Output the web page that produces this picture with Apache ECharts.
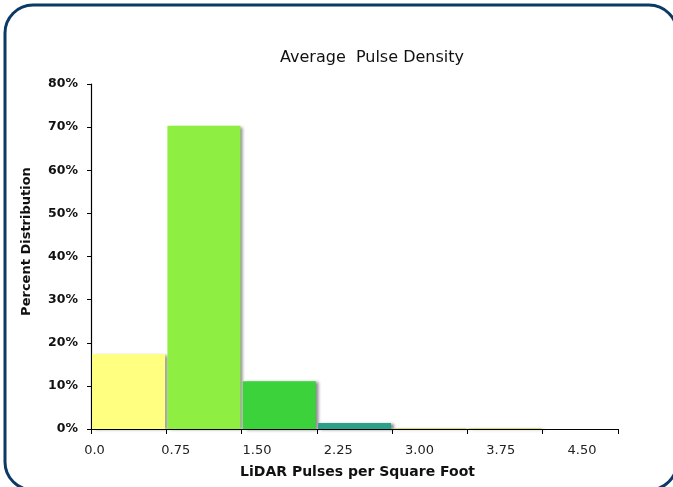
<!DOCTYPE html>
<html>
<head>
<meta charset="utf-8">
<script src="https://cdn.jsdelivr.net/npm/echarts@6/dist/echarts.min.js"></script>
<style>
html,body{margin:0;padding:0;background:#fff;}
#chart{width:673px;height:487px;}
</style>
</head>
<body>
<div id="chart"></div>
<script>
// Data
const binCategories = ['0.00-0.75', '0.75-1.50', '1.50-2.25', '2.25-3.00', '3.00-3.75', '3.75-4.50', '4.50-5.25'];
const percentValues = [17.4, 70.3, 11.1, 1.4, 0.2, 0.2, 0];
const xTickLabels = ['0.0', '0.75', '1.50', '2.25', '3.00', '3.75', '4.50'];
const yTickMax = 80;
const yTickStep = 10;

// Styles
const barColors = ['#FFFF80', '#8EEF42', '#3CD23C', '#2CA08B', '#D6D044', '#D6D044', '#D6D044'];
const FONT = '"DejaVu Sans", Inter, sans-serif';

const chart = echarts.init(document.getElementById('chart'));
chart.setOption({
  animation: false,
  backgroundColor: '#fff',
  title: {
    text: 'Average  Pulse Density',
    left: 367,
    textAlign: 'center',
    top: 45,
    textStyle: { fontFamily: FONT, fontSize: 16, fontWeight: 'normal', color: '#111' }
  },
  graphic: [{
    type: 'rect',
    shape: { x: 5, y: 5, width: 672, height: 485, r: 28 },
    style: { fill: 'none', stroke: '#0B3A66', lineWidth: 3 },
    z: 100
  }],
  grid: [
    { left: 91, right: 55, top: 84, bottom: 58 },
    { left: 94.5, right: 91, top: 84, bottom: 58 }
  ],
  xAxis: [{
    type: 'category',
    gridIndex: 0,
    data: binCategories,
    boundaryGap: true,
    axisLine: { lineStyle: { color: '#000', width: 1.2 } },
    axisTick: { show: true, length: 5, interval: 0, lineStyle: { color: '#000' } },
    axisLabel: { show: false },
    name: 'LiDAR Pulses per Square Foot',
    nameLocation: 'middle',
    nameGap: 36,
    nameTextStyle: { fontFamily: FONT, fontSize: 14, fontWeight: 'bold', color: '#111', padding: [0, 0, 0, 6] }
  }, {
    type: 'category',
    gridIndex: 1,
    data: xTickLabels,
    boundaryGap: false,
    axisLine: { show: false },
    axisTick: { show: false },
    axisLabel: { show: true, interval: 0, margin: 15, fontFamily: FONT, fontSize: 13, color: '#222' }
  }],
  yAxis: [{
    type: 'value',
    gridIndex: 0,
    min: 0,
    max: yTickMax,
    interval: yTickStep,
    splitLine: { show: false },
    axisLine: { show: true, lineStyle: { color: '#000', width: 1.2 } },
    axisTick: { show: true, length: 4, lineStyle: { color: '#000' } },
    axisLabel: { formatter: '{value}%', margin: 13, fontFamily: FONT, fontSize: 12.5, fontWeight: 'bold', color: '#111' },
    name: 'Percent Distribution',
    nameLocation: 'middle',
    nameGap: 58,
    nameTextStyle: { fontFamily: FONT, fontSize: 13, fontWeight: 'bold', color: '#111', padding: [0, 0, 0, 30] }
  }, {
    type: 'value',
    gridIndex: 1,
    show: false,
    min: 0,
    max: yTickMax
  }],
  series: [{
    type: 'bar',
    xAxisIndex: 0,
    yAxisIndex: 0,
    barCategoryGap: '3%',
    data: percentValues.map((v, i) => ({
      value: v,
      itemStyle: {
        color: barColors[i],
        shadowColor: 'rgba(0,0,0,0.45)',
        shadowBlur: 3,
        shadowOffsetX: 3,
        shadowOffsetY: 1
      }
    }))
  }]
});
</script>
</body>
</html>
